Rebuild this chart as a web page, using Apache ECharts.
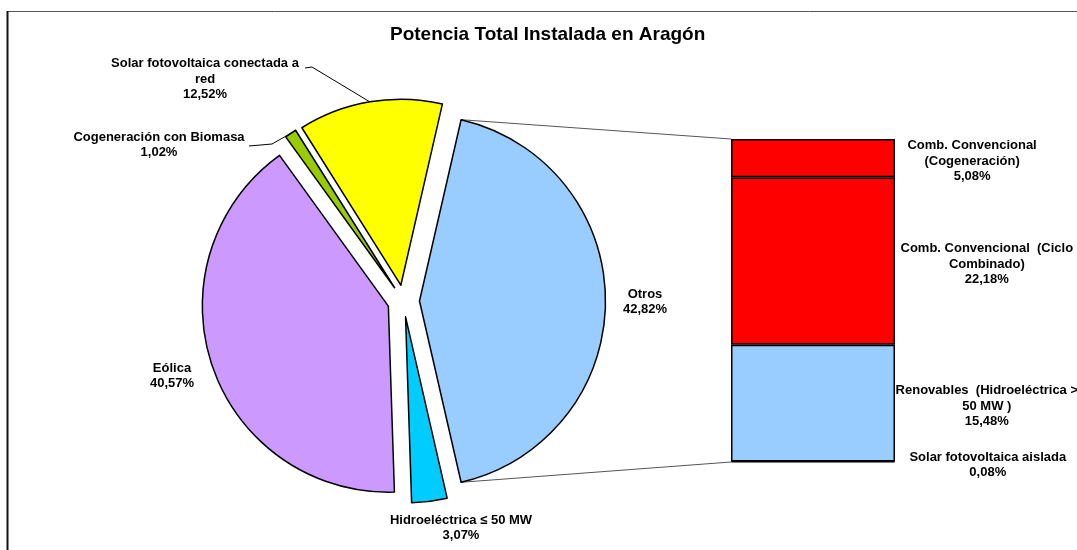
<!DOCTYPE html>
<html><head><meta charset="utf-8">
<script src="https://cdn.jsdelivr.net/npm/echarts@6/dist/echarts.min.js"></script>
<style>html,body{margin:0;padding:0;background:#fff}#c{width:1077px;height:550px}</style>
</head><body><div id="c"></div>
<script>
// ---- data ----
const chartTitle = 'Potencia Total Instalada en Aragón';
const pieNames = ['Otros', 'Hidroeléctrica ≤ 50 MW', 'Eólica', 'Cogeneración con Biomasa', 'Solar fotovoltaica conectada a\nred'];
const pieValues = [42.82, 3.07, 40.57, 1.02, 12.52];
const pieColors = ['#99CCFF', '#00CCFF', '#CC99FF', '#99CC00', '#FFFF00'];
// bar of "Otros", from bottom to top
const barNames = ['Solar fotovoltaica aislada', 'Renovables  (Hidroeléctrica >\n50 MW )', 'Comb. Convencional  (Ciclo\nCombinado)', 'Comb. Convencional\n(Cogeneración)'];
const barValues = [0.08, 15.48, 22.18, 5.08];
const barColors = ['#99CCFF', '#99CCFF', '#FF0000', '#FF0000'];

// ---- layout ----
const PIE_C = [403.5, 301], PIE_R = 186, OFFSET = 16;
const BAR_GRID = {left: 731, top: 139, width: 164, height: 323};
const pieLabelPos = [[645, 302], [461, 528], [172, 376], [159, 145], [205, 79]];
const leaderStart = {3: [[249, 146], [272, 144]], 4: [[305, 68], [312, 67]]};
const barLabelX = ['156%', '156%', '156%', '147%'];
const FF = '"Liberation Sans", Arial, sans-serif';
const FONT = {fontFamily: FF, fontWeight: 'bold', fontSize: 13, color: '#000', lineHeight: 15.5};

const fmt = v => v.toFixed(2).replace('.', ',') + '%';
const deg = Math.PI / 180;
const startAngle = pieValues[0] * 1.8; // "Otros" centered on the right
function sliceAngles(i) {
  let cum = 0; for (let k = 0; k < i; k++) cum += pieValues[k];
  const a0 = startAngle - 3.6 * cum, a1 = a0 - 3.6 * pieValues[i];
  return [a0, a1, (a0 + a1) / 2];
}
function sliceCenter(i) {
  const m = sliceAngles(i)[2] * deg;
  return [PIE_C[0] + OFFSET * Math.cos(m), PIE_C[1] - OFFSET * Math.sin(m)];
}
function arcPoint(i, a) {
  const c = sliceCenter(i);
  return [c[0] + PIE_R * Math.cos(a * deg), c[1] - PIE_R * Math.sin(a * deg)];
}

const chart = echarts.init(document.getElementById('c'), null, {renderer: 'canvas'});
const total = barValues.reduce((a, b) => a + b, 0);

chart.setOption({
  animation: false,
  backgroundColor: '#fff',
  title: {text: chartTitle, left: 390, top: 25, padding: 0,
    textStyle: {fontFamily: FF, fontWeight: 'bold', fontSize: 19, color: '#000'}},
  grid: Object.assign({containLabel: false}, BAR_GRID),
  xAxis: {type: 'category', data: ['Otros'], show: false},
  yAxis: {type: 'value', min: 0, max: total, show: false},
  series: [{
    type: 'pie', center: PIE_C, radius: PIE_R, startAngle: startAngle, clockwise: true,
    selectedMode: 'multiple', selectedOffset: OFFSET, avoidLabelOverlap: false,
    itemStyle: {borderColor: '#000', borderWidth: 1.5},
    select: {itemStyle: {borderColor: '#000', borderWidth: 1.5}},
    emphasis: {disabled: true},
    label: {show: false},
    labelLine: {show: false},
    data: pieNames.map((n, i) => ({name: n, value: pieValues[i], selected: true, itemStyle: {color: pieColors[i]}}))
  }].concat(barValues.map((v, i) => ({
    type: 'bar', name: barNames[i], stack: 'otros', barWidth: '100%', barCategoryGap: 0,
    data: [v],
    itemStyle: {color: barColors[i], borderColor: '#000', borderWidth: 1.5},
    emphasis: {disabled: true},
    label: Object.assign({show: true, position: [barLabelX[i], '50%'], align: 'center', verticalAlign: 'middle',
      offset: [0, 3], formatter: p => p.seriesName + '\n' + fmt(p.value)}, FONT)
  })))
});

// pie labels, leader lines, connector lines and frame
const g = [
  {type: 'line', shape: {x1: 7, y1: 11.5, x2: 1077, y2: 11.5}, style: {stroke: '#555', lineWidth: 1}},
  {type: 'line', shape: {x1: 7.5, y1: 11, x2: 7.5, y2: 550}, style: {stroke: '#111', lineWidth: 2}}
];
pieNames.forEach((n, i) => {
  g.push({type: 'text', x: pieLabelPos[i][0], y: pieLabelPos[i][1], z: 10,
    style: {text: n + '\n' + fmt(pieValues[i]), textAlign: 'center', textVerticalAlign: 'middle',
      font: 'bold 13px ' + FF, fill: '#000', lineHeight: 15.5}});
  if (leaderStart[i]) {
    const pt = arcPoint(i, sliceAngles(i)[2]);
    g.push({type: 'polyline', z: 10, shape: {points: [leaderStart[i][0], leaderStart[i][1], pt]},
      style: {stroke: '#000', lineWidth: 1, fill: null}});
  }
});
const otrosA = sliceAngles(0);
const pTop = arcPoint(0, otrosA[0]), pBot = arcPoint(0, otrosA[1]);
const bTop = chart.convertToPixel({gridIndex: 0}, [0, total]);
const bBot = chart.convertToPixel({gridIndex: 0}, [0, 0]);
g.push({type: 'line', shape: {x1: pTop[0], y1: pTop[1], x2: BAR_GRID.left, y2: bTop[1]}, style: {stroke: '#555', lineWidth: 1}});
g.push({type: 'line', shape: {x1: pBot[0], y1: pBot[1], x2: BAR_GRID.left, y2: bBot[1]}, style: {stroke: '#555', lineWidth: 1}});
chart.setOption({graphic: g});
</script></body></html>
